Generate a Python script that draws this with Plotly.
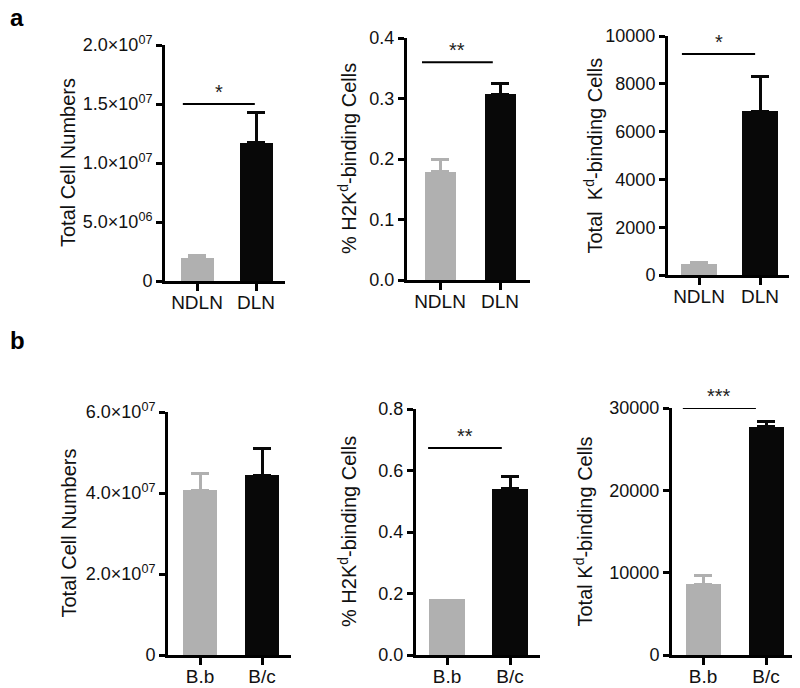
import plotly.graph_objects as go

# ---------------- data ----------------
cats_a = ["NDLN", "DLN"]
cats_b = ["B.b", "B/c"]

a1_vals = [1.95e6, 1.17e7]
a1_err = [0.25e6, 2.6e6]
a2_vals = [0.179, 0.307]
a2_err = [0.021, 0.018]
a3_vals = [470, 6850]
a3_err = [60, 1450]
b1_vals = [4.07e7, 4.44e7]
b1_err = [0.40e7, 0.67e7]
b2_vals = [0.182, 0.540]
b2_err = [0.0, 0.042]
b3_vals = [8600, 27700]
b3_err = [1000, 700]

a1_ticks = [0, 5e6, 1e7, 1.5e7, 2e7]
a1_ticktext = ["0", "5.0×10<sup>06</sup>", "1.0×10<sup>07</sup>", "1.5×10<sup>07</sup>", "2.0×10<sup>07</sup>"]
a2_ticks = [0, 0.1, 0.2, 0.3, 0.4]
a2_ticktext = ["0.0", "0.1", "0.2", "0.3", "0.4"]
a3_ticks = [0, 2000, 4000, 6000, 8000, 10000]
a3_ticktext = ["0", "2000", "4000", "6000", "8000", "10000"]
b1_ticks = [0, 2e7, 4e7, 6e7]
b1_ticktext = ["0", "2.0×10<sup>07</sup>", "4.0×10<sup>07</sup>", "6.0×10<sup>07</sup>"]
b2_ticks = [0, 0.2, 0.4, 0.6, 0.8]
b2_ticktext = ["0.0", "0.2", "0.4", "0.6", "0.8"]
b3_ticks = [0, 10000, 20000, 30000]
b3_ticktext = ["0", "10000", "20000", "30000"]

titles = ["Total Cell Numbers", "% H2K<sup>d</sup>-binding Cells", "Total  K<sup>d</sup>-binding Cells",
          "Total Cell Numbers", "% H2K<sup>d</sup>-binding Cells", "Total K<sup>d</sup>-binding Cells"]

# significance: (label, y level, x from, x to) or None
sig = [("*", 1.5e7, -0.24, 0.98), ("**", 0.36, -0.30, 0.88), ("*", 9250, -0.28, 0.92),
       None, ("**", 0.673, -0.30, 0.87), ("***", 30000, -0.32, 0.84)]

# ---------------- layout geometry (pixels in the 800x688 window) ----------------
OFF = 8                      # default page body margin
W, H = 800 - OFF, 688 - OFF  # figure size so that it fills the window
GREY = "#b0b0b0"
BLACK = "#080808"
FONT = "Liberation Sans, Arial, sans-serif"


def px(p):
    return (p - OFF) / W


def py(p):
    return 1 - (p - OFF) / H


panels = [
    # vals, err, cats, ticks, ticktext, ymax, L, R, c0, spacing, ytop, ybot, barpx, title_x
    (a1_vals, a1_err, cats_a, a1_ticks, a1_ticktext, 2e7, 165, 285, 197, 59, 45, 281, 33, 68),
    (a2_vals, a2_err, cats_a, a2_ticks, a2_ticktext, 0.4, 407, 530, 440, 60, 38, 280, 31, 347),
    (a3_vals, a3_err, cats_a, a3_ticks, a3_ticktext, 10000, 668, 789, 699, 61, 36, 275, 36, 593),
    (b1_vals, b1_err, cats_b, b1_ticks, b1_ticktext, 6e7, 168, 291, 200, 62, 412, 655, 34, 68),
    (b2_vals, b2_err, cats_b, b2_ticks, b2_ticktext, 0.8, 416, 540, 447, 63, 409, 655, 36, 347),
    (b3_vals, b3_err, cats_b, b3_ticks, b3_ticktext, 30000, 672, 797, 703, 63, 408, 655, 35, 583),
]

fig = go.Figure()
annotations = []
shapes = []

for i, (vals, err, cats, tv, tt, ymax, L, R, c0, s, yt, yb, bpx, tx) in enumerate(panels):
    n = "" if i == 0 else str(i + 1)
    xa, ya = "x" + n, "y" + n
    colors = [GREY, BLACK]
    for j in range(2):
        fig.add_trace(go.Bar(
            x=[j], y=[vals[j]], width=bpx / s, marker=dict(color=colors[j], line=dict(width=0)),
            error_y=dict(type="data", symmetric=False, array=[err[j]], arrayminus=[0],
                         color=colors[j], thickness=3, width=9, visible=err[j] > 0),
            xaxis=xa, yaxis=ya, showlegend=False, hoverinfo="skip"))
    xr = [-(c0 - L) / s, 1 + (R - c0 - s) / s]
    fig.layout["xaxis" + n] = dict(
        domain=[px(L), min(px(R), 1)], range=xr, anchor=ya, tickvals=[0, 1], ticktext=cats,
        automargin=False, ticklabelstandoff=-5,
        showline=True, linecolor="black", linewidth=3, ticks="outside", ticklen=7, tickwidth=3,
        tickcolor="black", showgrid=False, zeroline=False, fixedrange=True,
        tickfont=dict(family=FONT, size=19, color="#111"))
    fig.layout["yaxis" + n] = dict(
        domain=[py(yb), py(yt)], range=[0, ymax], anchor=xa, tickvals=tv, ticktext=tt,
        automargin=False,
        showline=True, linecolor="black", linewidth=3, ticks="outside", ticklen=6, tickwidth=3,
        tickcolor="black", showgrid=False, zeroline=False, fixedrange=True,
        tickfont=dict(family=FONT, size=18, color="#111"))
    annotations.append(dict(
        text=titles[i], textangle=-90, x=px(tx), y=py((yt + yb) / 2), xref="paper", yref="paper",
        showarrow=False, font=dict(family=FONT, size=20, color="#111"), xanchor="center", yanchor="middle"))
    if sig[i] is not None:
        lab, yl, x0, x1 = sig[i]
        shapes.append(dict(type="line", xref=xa, yref=ya, x0=x0, x1=x1, y0=yl, y1=yl,
                           line=dict(color="black", width=2)))
        annotations.append(dict(text=lab, x=(x0 + x1) / 2, y=yl, xref=xa, yref=ya, showarrow=False,
                                yanchor="bottom", yshift=-1, font=dict(family=FONT, size=20, color="#222")))

annotations.append(dict(text="<b>a</b>", x=0, y=py(18), xref="paper", yref="paper", showarrow=False,
                        xanchor="left", yanchor="middle", font=dict(family=FONT, size=24, color="black")))
annotations.append(dict(text="<b>b</b>", x=0, y=py(340), xref="paper", yref="paper", showarrow=False,
                        xanchor="left", yanchor="middle", font=dict(family=FONT, size=24, color="black")))

fig.update_layout(width=W, height=H, margin=dict(l=0, r=0, t=0, b=0), paper_bgcolor="white",
                  plot_bgcolor="white", annotations=annotations, shapes=shapes, bargap=0)
fig.write_html("out.html")
